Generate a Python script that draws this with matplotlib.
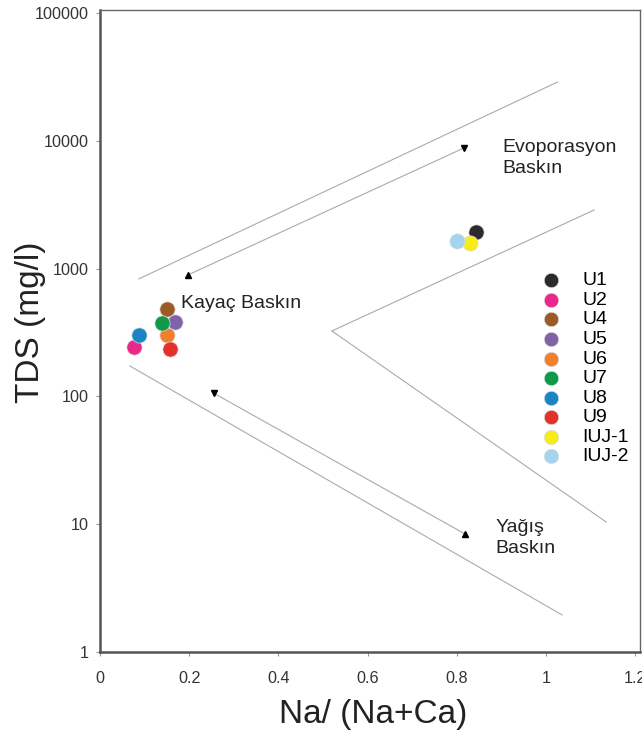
import numpy as np
import matplotlib.pyplot as plt

plt.rcParams["font.family"] = ["Liberation Sans", "DejaVu Sans"]

# sample points, Na/(Na+Ca) vs TDS
samples = ["U1", "U2", "U4", "U5", "U6", "U7", "U8", "U9", "IUJ-1", "IUJ-2"]
na_ratio = [0.842, 0.076, 0.151, 0.169, 0.151, 0.138, 0.087, 0.158, 0.830, 0.800]
tds = [1950, 245, 480, 385, 302, 378, 305, 237, 1590, 1650]
colors = ["#2b2b2b", "#e8288a", "#9a5b25", "#8062a8", "#f07f2e",
          "#109a48", "#1a85c4", "#e4322b", "#f7ec15", "#a4d4ef"]

# Gibbs boundary lines (x pairs, y pairs)
boundary_x = [[0.087, 1.026], [0.52, 1.108], [0.52, 1.135], [0.067, 1.036]]
boundary_y = [[830, 28850], [325, 2875], [325, 10.4], [173, 1.95]]

# arrow lines with triangle ends
arrow_x = [[0.197, 0.816], [0.255, 0.818]]
arrow_y = [[891, 8790], [106, 8.4]]
arrow_markers = [["^", "v"], ["v", "^"]]

xticks = [0, 0.2, 0.4, 0.6, 0.8, 1, 1.2]
xtick_labels = ["0", "0.2", "0.4", "0.6", "0.8", "1", "1.2"]
yticks = [1, 10, 100, 1000, 10000, 100000]
ytick_labels = ["1", "10", "100", "1000", "10000", "100000"]

fig = plt.figure(figsize=(6.42, 7.36), dpi=100)
ax = fig.add_axes([100 / 642, 84 / 736, 540 / 642, 642 / 736])

line_col = "#aaaaaa"
for xs, ys in zip(boundary_x, boundary_y):
    ax.plot(xs, ys, color=line_col, lw=0.8, zorder=1)

for xs, ys, mk in zip(arrow_x, arrow_y, arrow_markers):
    ax.plot(xs, ys, color=line_col, lw=0.8, zorder=1)
    for x, y, m in zip(xs, ys, mk):
        ax.plot(x, y, marker=m, color="black", ms=4.5, zorder=2)

for x, y, c, name in zip(na_ratio, tds, colors, samples):
    ax.scatter(x, y, s=120, color=c, edgecolors="#dddddd", linewidths=0.5,
               zorder=3, label=name)

ax.text(0.902, 7330, "Evoporasyon\nBaskın", fontsize=14, va="center",
        ha="left", color="#222222", linespacing=1.25)
ax.text(0.182, 530, "Kayaç Baskın", fontsize=14, va="center",
        ha="left", color="#222222")
ax.text(0.886, 7.8, "Yağış\nBaskın", fontsize=14, va="center",
        ha="left", color="#222222", linespacing=1.25)

ax.set_yscale("log")
ax.set_xlim(0, 540 / 446)
ax.set_ylim(1, 10 ** (642 / 127.8))
ax.set_xticks(xticks)
ax.set_xticklabels(xtick_labels)
ax.set_yticks(yticks)
ax.set_yticklabels(ytick_labels)
ax.minorticks_off()
ax.tick_params(direction="out", length=3, width=0.8, color="#999999",
               labelsize=11.6, labelcolor="#333333")
ax.tick_params(axis="x", pad=11)
ax.tick_params(axis="y", pad=5)

for side in ["left", "bottom"]:
    ax.spines[side].set_color("#555555")
    ax.spines[side].set_linewidth(1.8)
for side in ["top", "right"]:
    ax.spines[side].set_color("#666666")
    ax.spines[side].set_linewidth(1.0)

ax.set_xlabel("Na/ (Na+Ca)", fontsize=24, color="#222222")
ax.set_ylabel("TDS (mg/l)", fontsize=24, color="#222222")
ax.xaxis.set_label_coords(273 / 540, -(714 - 652) / 642)
ax.yaxis.set_label_coords(-(100 - 31) / 540, 1 - (322 - 10) / 642)
ax.xaxis.label.set_va("center")
ax.yaxis.label.set_va("center")

ax.legend(loc="upper left", bbox_to_anchor=(432 / 540, 1 - 254 / 642),
          frameon=False, fontsize=14, labelspacing=0.1, handletextpad=1.0,
          markerscale=0.95, borderaxespad=0, handlelength=1.2)

fig.savefig("out.png", dpi=100)
